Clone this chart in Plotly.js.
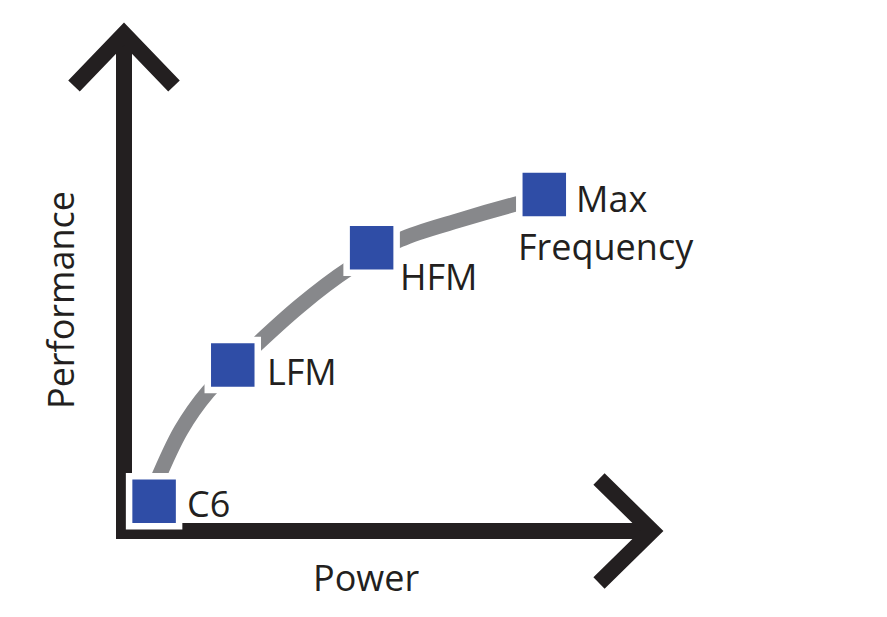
<!DOCTYPE html>
<html>
<head>
<meta charset="utf-8">
<script src="https://cdn.plot.ly/plotly-3.0.1.min.js"></script>
<style>html,body{margin:0;padding:0;background:#fff;}#chart{width:887px;height:617px;}</style>
</head>
<body>
<div id="chart"></div>
<script>
// ---- data (arbitrary units: power on x, performance on y) ----
const stateNames = ["C6", "LFM", "HFM", "Max Frequency"];
const statePower = [0.57, 2.06, 4.69, 7.96];
const statePerf  = [0.60, 3.34, 5.70, 6.77];

const curvePower = [0.60, 1.08, 1.59, 2.20, 3.33, 4.28, 5.23, 6.31, 7.50, 7.70];
const curvePerf  = [0.95, 2.03, 2.80, 3.44, 4.53, 5.29, 5.86, 6.24, 6.60, 6.65];

const xTitle = "Power";
const yTitle = "Performance";

// ---- styling ----
const BLACK = "#231f20", GRAY = "#87888b", BLUE = "#2f4da6";
const FONT = "Open Sans, Noto Sans, sans-serif";
const M = {l: 124, r: 235, t: 34, b: 86};
const W = 887, H = 617;
const PW = W - M.l - M.r, PH = H - M.t - M.b;
function P(px, py) { return ((px - M.l) / PW).toFixed(4) + "," + ((H - M.b - py) / PH).toFixed(4); }

const traces = [
  {x: curvePower, y: curvePerf, mode: "lines", type: "scatter",
   line: {color: GRAY, width: 15, shape: "spline", smoothing: 1},
   hoverinfo: "skip", cliponaxis: false},
  {x: statePower, y: statePerf, mode: "markers", type: "scatter",
   marker: {symbol: "square", size: 50, color: BLUE, line: {color: "#ffffff", width: 6.5}},
   text: stateNames, hoverinfo: "text", cliponaxis: false}
];

// label offsets in pixels (style only)
const labelOffsets = [[31, -2], [32, -6], [26, -29], [30, -4]];
const annotations = [];
stateNames.forEach((name, i) => {
  const parts = name.split(" ");
  annotations.push({x: statePower[i], y: statePerf[i], xref: "x", yref: "y", text: parts[0],
    showarrow: false, xanchor: "left", yanchor: "middle",
    xshift: labelOffsets[i][0], yshift: labelOffsets[i][1],
    font: {family: FONT, size: 36, color: BLACK}});
  if (parts.length > 1) {
    annotations.push({x: statePower[i], y: statePerf[i], xref: "x", yref: "y", text: parts.slice(1).join(" "),
      showarrow: false, xanchor: "left", yanchor: "middle",
      xshift: -28, yshift: -52,
      font: {family: FONT, size: 36, color: BLACK}});
  }
});
annotations.push({x: P(366, 577).split(",")[0] * 1, y: P(366, 577).split(",")[1] * 1,
  xref: "paper", yref: "paper", text: xTitle, showarrow: false, xanchor: "center", yanchor: "middle",
  font: {family: FONT, size: 36, color: BLACK}});
annotations.push({x: P(61, 300).split(",")[0] * 1, y: P(61, 300).split(",")[1] * 1,
  xref: "paper", yref: "paper", text: yTitle, textangle: -90, showarrow: false, xanchor: "center", yanchor: "middle",
  font: {family: FONT, size: 36, color: BLACK}});

const axisLine = {color: BLACK, width: 16};
const shapes = [
  {type: "path", xref: "paper", yref: "paper", layer: "below", line: axisLine,
   path: "M" + P(124, 34) + " L" + P(124, 531) + " L" + P(652, 531)},
  {type: "path", xref: "paper", yref: "paper", layer: "below", line: axisLine,
   path: "M" + P(74, 86) + " L" + P(124, 34) + " L" + P(174, 86)},
  {type: "path", xref: "paper", yref: "paper", layer: "below", line: axisLine,
   path: "M" + P(599, 479) + " L" + P(652, 531) + " L" + P(599, 583)}
];

const layout = {
  width: W, height: H, margin: M,
  paper_bgcolor: "#ffffff", plot_bgcolor: "#ffffff",
  showlegend: false,
  xaxis: {range: [0, 10], visible: false, fixedrange: true},
  yaxis: {range: [0, 10], visible: false, fixedrange: true},
  shapes: shapes, annotations: annotations
};

Plotly.newPlot("chart", traces, layout, {displayModeBar: false, staticPlot: true});
</script>
</body>
</html>
